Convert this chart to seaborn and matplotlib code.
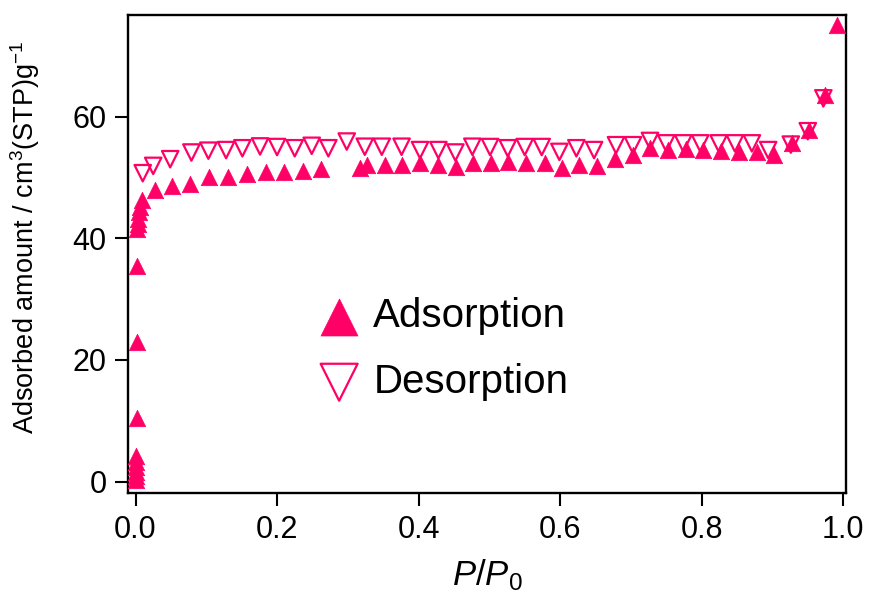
import pandas as pd
import matplotlib
matplotlib.use('Agg')
import matplotlib.pyplot as plt
import seaborn as sns

# adsorption branch (P/P0, amount)
ads_p = [0.0003, 0.0005, 0.0007, 0.0009, 0.0011, 0.0013, 0.0015, 0.0018, 0.0022,
         0.0026, 0.003, 0.0035, 0.0045, 0.006, 0.009, 0.0276, 0.051, 0.077, 0.104,
         0.131, 0.157, 0.184, 0.21, 0.236, 0.262, 0.317, 0.327, 0.353, 0.377, 0.402,
         0.428, 0.453, 0.477, 0.502, 0.527, 0.552, 0.578, 0.602, 0.627, 0.652, 0.678,
         0.703, 0.727, 0.753, 0.778, 0.802, 0.828, 0.853, 0.878, 0.902, 0.928, 0.952,
         0.975, 0.991]
ads_v = [0.3, 0.9, 1.6, 2.4, 3.3, 4.3, 10.5, 23.0, 35.4,
         41.6, 42.4, 43.2, 44.3, 45.2, 46.3, 47.9, 48.6, 49.0, 50.1,
         50.1, 50.6, 50.9, 50.9, 51.1, 51.4, 51.6, 52.0, 52.0, 52.0, 52.3,
         52.0, 51.8, 52.3, 52.3, 52.6, 52.3, 52.3, 51.5, 52.0, 51.9, 53.1,
         53.7, 54.8, 54.5, 54.6, 54.5, 54.4, 54.2, 54.2, 53.7, 55.6, 57.8,
         63.6, 75.0]

# desorption branch
des_p = [0.0102, 0.025, 0.049, 0.079, 0.103, 0.128, 0.151, 0.176, 0.2, 0.225,
         0.249, 0.2725, 0.2985, 0.324, 0.348, 0.376, 0.402, 0.428, 0.452, 0.476,
         0.501, 0.526, 0.550, 0.574, 0.599, 0.623, 0.648, 0.679, 0.703, 0.727,
         0.750, 0.774, 0.798, 0.824, 0.847, 0.871, 0.894, 0.926, 0.950, 0.972]
des_v = [50.7, 51.9, 53.0, 54.1, 54.4, 54.5, 54.8, 55.1, 55.0, 54.8,
         55.2, 54.8, 55.9, 55.05, 55.05, 55.05, 54.5, 54.5, 54.1, 55.05,
         55.0, 54.8, 55.0, 55.0, 54.2, 54.8, 54.5, 55.3, 55.3, 56.0,
         55.6, 55.6, 55.6, 55.6, 55.6, 55.6, 54.5, 55.4, 57.6, 63.0]

x_ticks = [0.0, 0.2, 0.4, 0.6, 0.8, 1.0]
y_ticks = [0, 20, 40, 60]

PINK = '#FF0066'

ads = pd.DataFrame({'p': ads_p, 'v': ads_v})
des = pd.DataFrame({'p': des_p, 'v': des_v})

sns.set_style('ticks')
plt.rcParams['font.family'] = ['Liberation Sans', 'DejaVu Sans']
plt.rcParams['mathtext.fontset'] = 'custom'
plt.rcParams['mathtext.rm'] = 'Liberation Sans'
plt.rcParams['mathtext.it'] = 'Liberation Sans:italic'
plt.rcParams['mathtext.default'] = 'regular'
plt.rcParams['text.color'] = 'black'
plt.rcParams['axes.labelcolor'] = 'black'

fig = plt.figure(figsize=(8.73, 6.08), dpi=100)
ax = fig.add_axes([128 / 873, 1 - 493 / 608, 718 / 873, 478 / 608])

sns.scatterplot(data=ads, x='p', y='v', marker='^', s=140, color=PINK,
                edgecolor=PINK, linewidth=0.5, label='Adsorption', ax=ax, zorder=3)
sns.scatterplot(data=des, x='p', y='v', marker='v', s=140, color=PINK,
                facecolors='none', edgecolor=PINK, linewidth=1.6,
                label='Desorption', ax=ax, zorder=3)

ax.set_xlim(-0.0106, 1.004)
ax.set_ylim(-1.86, 76.7)
ax.set_xticks(x_ticks)
ax.set_xticklabels([f'{t:.1f}' for t in x_ticks])
ax.set_yticks(y_ticks)
ax.tick_params(axis='both', direction='out', length=9.5, width=1.5,
               labelsize=22, colors='black', pad=6)
for sp in ax.spines.values():
    sp.set_linewidth(1.7)
    sp.set_color('black')
    sp.set_visible(True)

ax.set_xlabel(r'$\mathit{P/P}_{\mathrm{0}}$', fontsize=25, labelpad=9)
ax.set_ylabel(r'Adsorbed amount / cm$^{3}$(STP)g$^{-1}$', fontsize=19.5)
ax.yaxis.set_label_coords(-0.12, 0.536)

leg = ax.legend(loc='center left', bbox_to_anchor=(0.266, 0.301), frameon=False,
                fontsize=29, markerscale=2.25, handlelength=1.0, handletextpad=0.35,
                borderpad=0, borderaxespad=0, labelspacing=0.68)
for t in leg.get_texts():
    t.set_color('black')

fig.savefig('out.png', dpi=100)
